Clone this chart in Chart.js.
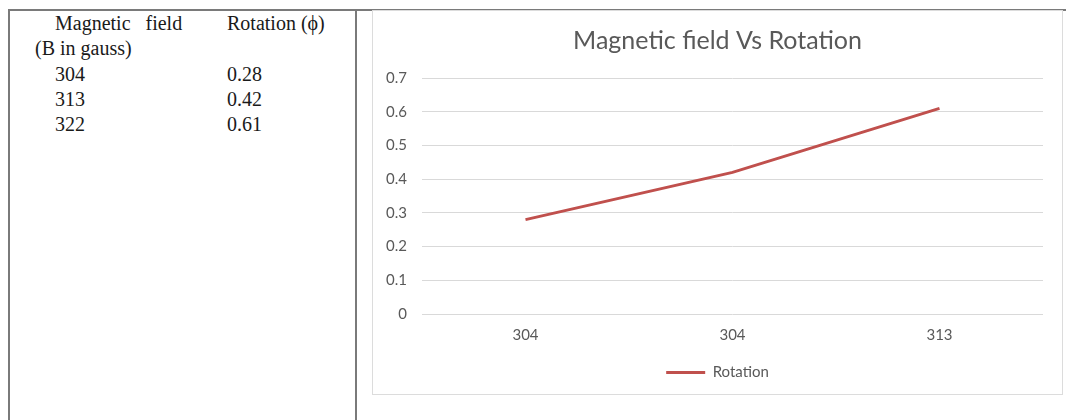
<!DOCTYPE html>
<html>
<head>
<meta charset="utf-8">
<script src="https://cdn.jsdelivr.net/npm/chart.js@4.4.1/dist/chart.umd.min.js"></script>
<style>
  html, body { margin: 0; padding: 0; background: #ffffff; }
  body { width: 1066px; height: 420px; position: relative; overflow: hidden; }
  .rule { position: absolute; background: #7a7a7a; }
  .cell { position: absolute; font-family: "Liberation Serif", "Times New Roman", serif;
          font-size: 20px; color: #1a1a1a; white-space: pre; line-height: 1; }
  #box { position: absolute; left: 372px; top: 10px; width: 689px; height: 383px;
         border: 1px solid #dcdcdc; background: #ffffff; }
  #box canvas { position: absolute; left: 0; top: 0; }
</style>
</head>
<body>
<div class="rule" style="left:8px; top:9px; width:1058px; height:2px;"></div>
<div class="rule" style="left:8px; top:9px; width:2px; height:411px;"></div>
<div class="rule" style="left:355px; top:9px; width:2px; height:411px;"></div>
<div id="table"></div>
<div id="box"><canvas id="c" width="689" height="383"></canvas></div>
<script>
// Measurements table (left column)
const tableHeadField = "Magnetic   field";
const tableHeadUnit = "(B in gauss)";
const tableHeadRotation = "Rotation (\u03D5)";
const fieldValues = ["304", "313", "322"];
const rotationValues = ["0.28", "0.42", "0.61"];

// Chart series
const categories = ["304", "304", "313"];
const rotation = [0.28, 0.42, 0.61];
const yTicks = [0, 0.1, 0.2, 0.3, 0.4, 0.5, 0.6, 0.7];

// Build the table text
const table = document.getElementById('table');
function addCell(text, left, baseline) {
  const d = document.createElement('div');
  d.className = 'cell';
  d.textContent = text;
  d.style.left = left + 'px';
  d.style.top = (baseline - 16) + 'px';
  table.appendChild(d);
}
addCell(tableHeadField, 55, 29);
addCell(tableHeadRotation, 227, 29);
addCell(tableHeadUnit, 35, 54);
fieldValues.forEach((v, i) => addCell(v, 55, 80 + i * 25));
rotationValues.forEach((v, i) => addCell(v, 227, 80 + i * 25));

// Line chart
const red = '#C0504D';
const grey = '#595959';
const sans = 'Lato, "Open Sans", sans-serif';
new Chart(document.getElementById('c'), {
  type: 'line',
  data: {
    labels: categories,
    datasets: [{
      label: 'Rotation',
      data: rotation,
      borderColor: red,
      backgroundColor: red,
      borderWidth: 3,
      pointRadius: 0,
      pointHoverRadius: 0,
      tension: 0,
      fill: false
    }]
  },
  options: {
    responsive: false,
    animation: false,
    layout: { padding: { left: 0, right: 0, top: 0, bottom: 4 } },
    plugins: {
      title: {
        display: true,
        text: 'Magnetic field Vs Rotation',
        color: grey,
        font: { family: sans, size: 25, weight: 'normal' },
        padding: { top: 15, bottom: 22 }
      },
      legend: {
        display: true,
        position: 'bottom',
        labels: {
          color: grey,
          padding: 9,
          font: { family: sans, size: 15 },
          usePointStyle: true,
          pointStyle: 'line',
          pointStyleWidth: 39,
          boxHeight: 12
        }
      },
      tooltip: { enabled: false }
    },
    scales: {
      x: {
        offset: true,
        grid: { display: false, drawTicks: false },
        border: { display: false },
        ticks: {
          color: grey,
          padding: 12,
          font: { family: sans, size: 15 }
        }
      },
      y: {
        min: 0,
        max: 0.7,
        afterBuildTicks: (axis) => { axis.ticks = yTicks.map(v => ({ value: v })); },
        afterFit: (axis) => { axis.width = 49; },
        grid: { color: '#d9d9d9', lineWidth: 1, drawTicks: false },
        border: { display: false },
        ticks: {
          color: grey,
          padding: 15,
          font: { family: sans, size: 15 },
          callback: (v) => String(v)
        }
      },
      // empty right-hand margin so the gridlines stop short of the frame
      yRight: {
        position: 'right',
        display: true,
        afterFit: (axis) => { axis.width = 19; },
        grid: { display: false, drawTicks: false },
        border: { display: false },
        ticks: { display: false }
      }
    }
  }
});
</script>
</body>
</html>
